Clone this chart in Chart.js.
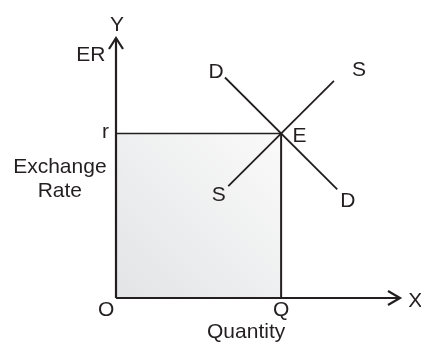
<!DOCTYPE html>
<html lang="en">
  <head>
    <meta charset="UTF-8" />
    <title>Exchange rate - demand and supply</title>
    <style>
      body { margin: 0; background: #fff; }
      #wrap { width: 421px; height: 342px; }
    </style>
  </head>
  <body>
    <div id="wrap">
      <canvas id="erChart" width="421" height="342"></canvas>
    </div>

    <script src="https://cdn.jsdelivr.net/npm/chart.js@4/dist/chart.umd.min.js"></script>
    <script>
      // chart values (data units, origin O = 0,0)
      var axisXEnd = [0, 8.6];
      var axisYEnd = [0, 7.9];
      var demandQ = [3.3, 6.7];
      var demandER = [6.7, 3.3];
      var supplyQ = [3.4, 6.6];
      var supplyER = [3.4, 6.6];
      var eqQuantity = 5;   // Q
      var eqRate = 5;       // r

      var ink = '#231f20';

      function pts(xs, ys) {
        return xs.map(function (x, i) { return { x: x, y: ys[i] }; });
      }

      // text on the picture, placed in data units (centre x, baseline y)
      var labels = [
        { t: 'Y', x: 0.03, y: 8.12 },
        { t: 'ER', x: -0.76, y: 7.21 },
        { t: 'r', x: -0.32, y: 4.85 },
        { t: 'Exchange', x: -1.7, y: 3.79 },
        { t: 'Rate', x: -1.7, y: 3.06 },
        { t: 'O', x: -0.3, y: -0.55 },
        { t: 'Q', x: eqQuantity, y: -0.55 },
        { t: 'Quantity', x: 3.94, y: -1.21 },
        { t: 'X', x: 9.06, y: -0.27 },
        { t: 'D', x: 3.03, y: 6.67 },
        { t: 'S', x: 7.36, y: 6.76 },
        { t: 'E', x: 5.56, y: 4.73 },
        { t: 'S', x: 3.11, y: 2.94 },
        { t: 'D', x: 7.02, y: 2.76 }
      ];

      // arrow heads + labels
      var diagramExtras = {
        id: 'diagramExtras',
        afterDatasetsDraw: function (chart) {
          var c = chart.ctx;
          var sx = chart.scales.x, sy = chart.scales.y;
          var ox = sx.getPixelForValue(0), oy = sy.getPixelForValue(0);
          var tx = sx.getPixelForValue(axisXEnd[1]);
          var ty = sy.getPixelForValue(axisYEnd[1]);
          c.save();
          c.strokeStyle = ink;
          c.lineWidth = 2.2;
          c.lineJoin = 'miter';
          c.beginPath();
          c.moveTo(tx - 12, oy - 7);
          c.lineTo(tx, oy);
          c.lineTo(tx - 12, oy + 7);
          c.moveTo(ox - 7, ty + 11);
          c.lineTo(ox, ty);
          c.lineTo(ox + 7, ty + 11);
          c.stroke();

          c.fillStyle = ink;
          c.font = '21px "Liberation Sans", Arial, sans-serif';
          c.textAlign = 'center';
          c.textBaseline = 'alphabetic';
          labels.forEach(function (l) {
            c.fillText(l.t, sx.getPixelForValue(l.x), sy.getPixelForValue(l.y));
          });
          c.restore();
        }
      };

      var ctx = document.getElementById('erChart');
      var erChart = new Chart(ctx, {
        type: 'scatter',
        data: {
          datasets: [
            {
              // shaded area O-r-E-Q
              data: pts([0, eqQuantity], [eqRate, eqRate]),
              showLine: true,
              fill: 'origin',
              borderColor: ink,
              borderWidth: 1.6,
              backgroundColor: function (context) {
                var area = context.chart.chartArea;
                if (!area) return '#eeeeef';
                var sx = context.chart.scales.x, sy = context.chart.scales.y;
                var g = context.chart.ctx.createLinearGradient(
                  sx.getPixelForValue(0), sy.getPixelForValue(0),
                  sx.getPixelForValue(eqQuantity), sy.getPixelForValue(eqRate));
                g.addColorStop(0, '#e3e4e6');
                g.addColorStop(1, '#fafafa');
                return g;
              },
              pointRadius: 0,
              clip: false
            },
            {
              data: pts([eqQuantity, eqQuantity], [0, eqRate]),
              showLine: true,
              borderColor: ink,
              borderWidth: 2,
              pointRadius: 0,
              clip: false
            },
            {
              label: 'D',
              data: pts(demandQ, demandER),
              showLine: true,
              borderColor: ink,
              borderWidth: 1.8,
              pointRadius: 0,
              clip: false
            },
            {
              label: 'S',
              data: pts(supplyQ, supplyER),
              showLine: true,
              borderColor: ink,
              borderWidth: 1.8,
              pointRadius: 0,
              clip: false
            },
            {
              // X axis
              data: pts(axisXEnd, [0, 0]),
              showLine: true,
              borderColor: ink,
              borderWidth: 2.2,
              pointRadius: 0,
              clip: false
            },
            {
              // Y axis
              data: pts([0, 0], axisYEnd),
              showLine: true,
              borderColor: ink,
              borderWidth: 2.2,
              pointRadius: 0,
              clip: false
            }
          ]
        },
        options: {
          responsive: false,
          devicePixelRatio: 1,
          animation: false,
          layout: { padding: { left: 116, right: 21, top: 38, bottom: 44 } },
          plugins: {
            legend: { display: false },
            tooltip: { enabled: false },
            filler: { drawTime: 'beforeDatasetsDraw' }
          },
          scales: {
            x: { type: 'linear', display: false, min: axisXEnd[0], max: axisXEnd[1] },
            y: { type: 'linear', display: false, min: axisYEnd[0], max: axisYEnd[1] }
          }
        },
        plugins: [diagramExtras]
      });
    </script>
  </body>
</html>
